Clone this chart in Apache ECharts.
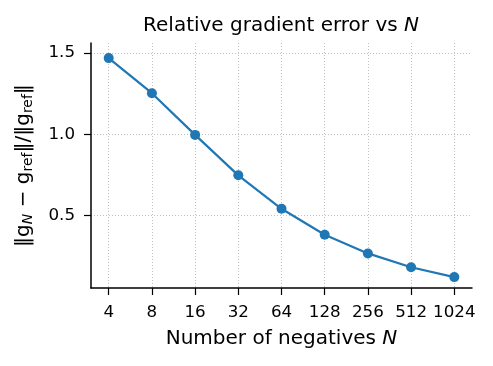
<!DOCTYPE html>
<html>
<head>
<meta charset="utf-8">
<script src="https://cdn.jsdelivr.net/npm/echarts@6/dist/echarts.min.js"></script>
<style>
  html, body { margin: 0; padding: 0; background: #fff; }
  #chart { width: 493px; height: 366px; }
</style>
</head>
<body>
<div id="chart"></div>
<script>
// data
const negatives = ['4', '8', '16', '32', '64', '128', '256', '512', '1024']
const relError = [1.469, 1.253, 0.996, 0.747, 0.541, 0.381, 0.266, 0.181, 0.120]
const yTicks = [0.5, 1.0, 1.5]

const FONT = 'DejaVu Sans'
const BLUE = '#1f77b4'

let chart = echarts.init(document.getElementById('chart'))

// category index -> value so the axis can pad like matplotlib
let points = relError.map((v, i) => [i, v])
let xIdx = negatives.map((n, i) => i)

let gridLine = {
  show: true,
  lineStyle: { color: '#b0b0b0', width: 0.8, type: [1, 2] }
}

let option = {
  animation: false,
  backgroundColor: '#fff',
  textStyle: { fontFamily: FONT },
  title: {
    text: '{a|Relative gradient error vs }{i|N}',
    left: 276,
    top: 11,
    textAlign: 'center',
    textStyle: {
      rich: {
        a: { fontFamily: FONT, fontSize: 20, fontWeight: 'normal', color: '#000' },
        i: { fontFamily: FONT, fontSize: 20, fontWeight: 'normal', color: '#000', fontStyle: 'italic' }
      }
    }
  },
  grid: { left: 91, right: 21, top: 43, bottom: 78 },
  xAxis: {
    type: 'value',
    min: -0.41,
    max: 8.41,
    name: '{a|Number of negatives }{i|N}',
    nameLocation: 'middle',
    nameGap: 41,
    nameTextStyle: {
      rich: {
        a: { fontFamily: FONT, fontSize: 20, color: '#000' },
        i: { fontFamily: FONT, fontSize: 20, color: '#000', fontStyle: 'italic' }
      }
    },
    axisLine: { show: true, onZero: false, lineStyle: { color: '#000', width: 1.5 } },
    axisTick: { show: true, customValues: xIdx, length: 7, lineStyle: { color: '#000', width: 1.2 } },
    axisLabel: {
      customValues: xIdx,
      formatter: v => negatives[Math.round(v)],
      color: '#000', fontSize: 16.7, fontFamily: FONT, margin: 16
    },
    splitLine: gridLine
  },
  yAxis: {
    type: 'value',
    min: 0.053,
    max: 1.562,
    name: '{a|‖g}{n|N}{a| − g}{s|ref}{a|‖/‖g}{s|ref}{a|‖}',
    nameLocation: 'middle',
    nameRotate: 90,
    nameGap: 56,
    nameTextStyle: {
      rich: {
        a: { fontFamily: FONT, fontSize: 20, color: '#000' },
        s: { fontFamily: FONT, fontSize: 14, color: '#000', padding: [8, 0, 0, 0] },
        n: { fontFamily: FONT, fontSize: 14, color: '#000', fontStyle: 'italic', padding: [8, 0, 0, 0] }
      }
    },
    axisLine: { show: true, onZero: false, lineStyle: { color: '#000', width: 1.5 } },
    axisTick: { show: true, customValues: yTicks, length: 7, lineStyle: { color: '#000', width: 1.2 } },
    axisLabel: {
      customValues: yTicks,
      formatter: v => v.toFixed(1),
      color: '#000', fontSize: 16.7, fontFamily: FONT, margin: 16
    },
    splitLine: gridLine
  },
  series: [
    {
      type: 'line',
      data: points,
      symbol: 'circle',
      symbolSize: 10,
      lineStyle: { color: BLUE, width: 2.2 },
      itemStyle: { color: BLUE }
    }
  ]
}

chart.setOption(option)
</script>
</body>
</html>
